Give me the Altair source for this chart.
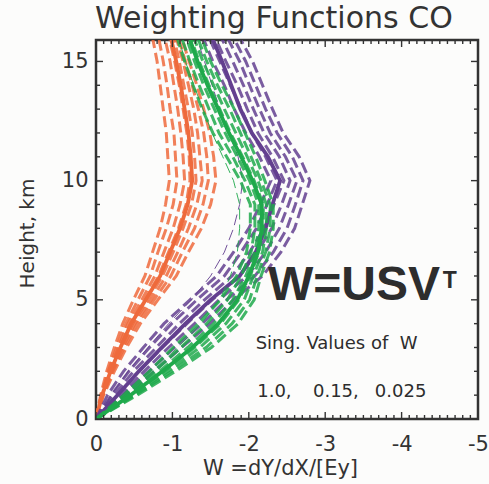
import altair as alt
import pandas as pd

# ---------------- data ----------------
heights = [0, 1, 2, 3, 4, 5, 6, 7, 8, 9, 10, 11, 12, 13, 14, 15, 16]

orange_main = [0, -0.08, -0.19, -0.32, -0.46, -0.65, -0.84, -0.97, -1.10, -1.20, -1.26, -1.24, -1.21, -1.16, -1.11, -1.05, -0.98]
orange_runs = [
    [0, -0.06, -0.14, -0.24, -0.35, -0.49, -0.64, -0.74, -0.84, -0.91, -0.96, -0.94, -0.92, -0.88, -0.84, -0.80, -0.74],
    [0, -0.07, -0.16, -0.27, -0.39, -0.55, -0.71, -0.81, -0.92, -1.01, -1.06, -1.04, -1.02, -0.97, -0.93, -0.88, -0.82],
    [0, -0.07, -0.17, -0.29, -0.42, -0.60, -0.77, -0.89, -1.01, -1.10, -1.16, -1.14, -1.11, -1.07, -1.02, -0.97, -0.90],
    [0, -0.08, -0.19, -0.31, -0.45, -0.64, -0.82, -0.95, -1.08, -1.18, -1.23, -1.22, -1.19, -1.14, -1.09, -1.03, -0.96],
    [0, -0.08, -0.20, -0.33, -0.48, -0.68, -0.87, -1.01, -1.14, -1.25, -1.31, -1.29, -1.26, -1.21, -1.15, -1.09, -1.02],
    [0, -0.09, -0.21, -0.35, -0.51, -0.72, -0.92, -1.07, -1.21, -1.32, -1.39, -1.36, -1.33, -1.28, -1.21, -1.14, -1.05],
    [0, -0.09, -0.22, -0.37, -0.54, -0.76, -0.98, -1.13, -1.29, -1.40, -1.47, -1.45, -1.41, -1.34, -1.26, -1.17, -1.08],
    [0, -0.10, -0.24, -0.40, -0.58, -0.81, -1.05, -1.21, -1.38, -1.50, -1.57, -1.54, -1.49, -1.41, -1.32, -1.22, -1.12],
]

green_main = [0, -0.45, -0.87, -1.26, -1.60, -1.85, -2.00, -2.12, -2.17, -2.17, -2.05, -1.90, -1.74, -1.60, -1.46, -1.33, -1.22]
green_runs = [
    [0, -0.36, -0.70, -1.01, -1.34, -1.63, -1.84, -1.97, -2.02, -2.02, -1.89, -1.71, -1.53, -1.39, -1.27, -1.16, -1.06],
    [0, -0.40, -0.77, -1.11, -1.45, -1.72, -1.90, -2.03, -2.08, -2.08, -1.95, -1.79, -1.61, -1.48, -1.35, -1.23, -1.12],
    [0, -0.43, -0.83, -1.20, -1.54, -1.79, -1.96, -2.08, -2.13, -2.13, -2.01, -1.85, -1.69, -1.55, -1.41, -1.29, -1.18],
    [0, -0.46, -0.89, -1.29, -1.63, -1.87, -2.02, -2.13, -2.19, -2.19, -2.07, -1.92, -1.76, -1.62, -1.48, -1.35, -1.24],
    [0, -0.49, -0.94, -1.36, -1.70, -1.94, -2.06, -2.18, -2.23, -2.23, -2.12, -1.98, -1.83, -1.68, -1.54, -1.40, -1.28],
    [0, -0.51, -0.99, -1.44, -1.78, -2.01, -2.11, -2.22, -2.28, -2.28, -2.16, -2.03, -1.89, -1.75, -1.59, -1.45, -1.33],
    [0, -0.54, -1.04, -1.51, -1.86, -2.07, -2.16, -2.27, -2.32, -2.32, -2.21, -2.09, -1.95, -1.81, -1.65, -1.50, -1.38],
]
green_thin = [0, -0.38, -0.74, -1.07, -1.38, -1.62, -1.76, -1.85, -1.88, -1.88, -1.80, -1.66, -1.52, -1.40, -1.28, -1.17, -1.08]

purple_main = [0, -0.28, -0.56, -0.86, -1.17, -1.50, -1.88, -2.09, -2.22, -2.31, -2.41, -2.25, -2.04, -1.89, -1.77, -1.65, -1.52]
purple_runs = [
    [0, -0.15, -0.36, -0.62, -0.89, -1.23, -1.58, -1.80, -2.00, -2.15, -2.29, -2.14, -1.96, -1.81, -1.68, -1.53, -1.40],
    [0, -0.20, -0.43, -0.70, -0.99, -1.32, -1.68, -1.90, -2.10, -2.24, -2.37, -2.22, -2.04, -1.90, -1.76, -1.62, -1.48],
    [0, -0.24, -0.49, -0.79, -1.09, -1.42, -1.78, -2.01, -2.20, -2.33, -2.46, -2.31, -2.12, -1.98, -1.85, -1.70, -1.56],
    [0, -0.28, -0.56, -0.87, -1.19, -1.52, -1.88, -2.11, -2.30, -2.43, -2.54, -2.40, -2.20, -2.06, -1.93, -1.79, -1.64],
    [0, -0.32, -0.63, -0.95, -1.29, -1.61, -1.98, -2.22, -2.40, -2.52, -2.63, -2.48, -2.28, -2.14, -2.01, -1.88, -1.72],
    [0, -0.36, -0.69, -1.03, -1.39, -1.71, -2.08, -2.32, -2.50, -2.61, -2.71, -2.57, -2.37, -2.22, -2.09, -1.96, -1.80],
    [0, -0.41, -0.76, -1.12, -1.49, -1.80, -2.18, -2.42, -2.60, -2.70, -2.80, -2.66, -2.45, -2.31, -2.18, -2.05, -1.88],
]
purple_thin = [0, -0.20, -0.42, -0.68, -0.95, -1.25, -1.50, -1.68, -1.80, -1.88, -1.92, -1.86, -1.74, -1.62, -1.52, -1.42, -1.32]

x_label_values = [0, -1, -2, -3, -4, -5]
y_label_values = [0, 5, 10, 15]
x_minor_ticks = [round(-0.1 * i, 1) for i in range(51)]
y_minor_ticks = list(range(0, 16))

title_text = "Weighting Functions CO"
annotations_bold = [("W=USV", -2.25, 4.99, 48), ("T", -4.54, 5.50, 23)]
annotations_plain = [("Sing. Values of\u00a0\u00a0W", -2.09, 2.94, 18),
                     ("1.0,", -2.11, 0.92, 18), ("0.15,", -2.84, 0.92, 18), ("0.025", -3.65, 0.92, 18)]

COLORS = {"orange": "#EE6A3C", "green": "#1FA94B", "purple": "#633F8F"}
INK = "#333333"
W, H = 382, 379
FONT = "DejaVu Sans"

xs = alt.Scale(domain=[0, -5], nice=False, zero=False)
ys = alt.Scale(domain=[0, 15.9], nice=False, zero=False)

XA = alt.Axis(values=x_label_values, tickSize=0, domain=False, grid=False, labelFlush=False,
              labelExpr="datum.value == 0 ? '0' : '-' + abs(datum.value)",
              labelPadding=14, labelFontSize=21, title="W =dY/dX/[Ey]",
              titleX=184, titleY=55, titleBaseline="alphabetic", titleFontSize=21)
YA = alt.Axis(values=y_label_values, tickSize=0, domain=False, grid=False, labelFlush=False,
              labelPadding=8, labelFontSize=21, title="Height, km",
              titleX=-63, titleY=193, titleBaseline="alphabetic", titleAngle=-90, titleFontSize=20)


def frame(series_list, prefix):
    rows = []
    for k, s in enumerate(series_list):
        for h, w in zip(heights, s):
            rows.append({"member": f"{prefix}{k}", "h": h, "w": w})
    return pd.DataFrame(rows)


def lines(series_list, prefix, color, width, dash=None, opacity=1.0):
    kw = dict(clip=True, strokeWidth=width, color=color, opacity=opacity)
    if dash is not None:
        kw["strokeDash"] = dash
    return alt.Chart(frame(series_list, prefix)).mark_line(**kw).encode(
        x=alt.X("w:Q", scale=xs, axis=XA),
        y=alt.Y("h:Q", scale=ys, axis=YA),
        detail="member:N",
        order="h:Q",
    )


def xticks(vals, length, top):
    d = pd.DataFrame({"v": vals})
    if top:
        enc = dict(y=alt.value(0), y2=alt.value(length))
    else:
        enc = dict(y=alt.value(H), y2=alt.value(H - length))
    return alt.Chart(d).mark_rule(color=INK, strokeWidth=1.4).encode(
        x=alt.X("v:Q", scale=xs, axis=XA), **enc)


def yticks(vals, length, right):
    d = pd.DataFrame({"v": vals})
    if right:
        enc = dict(x=alt.value(W), x2=alt.value(W - length))
    else:
        enc = dict(x=alt.value(0), x2=alt.value(length))
    return alt.Chart(d).mark_rule(color=INK, strokeWidth=1.4).encode(
        y=alt.Y("v:Q", scale=ys, axis=YA), **enc)


def texts(items, weight, font):
    d = pd.DataFrame(items, columns=["t", "x", "y", "fs"])
    return alt.Chart(d).mark_text(align="left", baseline="alphabetic", color="#2d2d2d",
                                  font=font, fontWeight=weight).encode(
        x=alt.X("x:Q", scale=xs, axis=XA),
        y=alt.Y("y:Q", scale=ys, axis=YA),
        text="t:N",
        size=alt.Size("fs:Q", scale=None, legend=None),
    )


title_layer = alt.Chart(pd.DataFrame({"t": [title_text]})).mark_text(
    align="left", baseline="alphabetic", color=INK, font=FONT, fontSize=30
).encode(text="t:N", x=alt.value(-1), y=alt.value(-12))

DASH = [11, 5]
DW = 3.0
layers = [
    lines(orange_runs, "o", COLORS["orange"], DW, DASH, 0.85),
    lines([orange_main], "om", COLORS["orange"], 3.8),
    lines(purple_runs, "p", COLORS["purple"], DW, DASH, 0.85),
    lines([purple_thin], "pt", COLORS["purple"], 1.0, DASH, 0.9),
    lines([purple_main], "pm", COLORS["purple"], 3.8),
    lines(green_runs, "g", COLORS["green"], DW, DASH, 0.85),
    lines([green_thin], "gt", COLORS["green"], 1.0, DASH, 0.9),
    lines([green_main], "gm", COLORS["green"], 3.8),
    xticks([v for v in x_minor_ticks if abs(v - round(v)) > 1e-6], 4, False),
    xticks([v for v in x_minor_ticks if abs(v - round(v)) > 1e-6], 4, True),
    xticks(x_label_values, 7, False),
    xticks(x_label_values, 7, True),
    yticks([v for v in y_minor_ticks if v % 5 != 0], 4, False),
    yticks([v for v in y_minor_ticks if v % 5 != 0], 4, True),
    yticks(y_label_values, 7, False),
    yticks(y_label_values, 7, True),
    texts(annotations_bold, "bold", "Liberation Sans"),
    texts(annotations_plain, "normal", FONT),
    title_layer,
]

chart = alt.layer(*layers).properties(
    width=W, height=H,
    autosize=alt.AutoSizeParams(type="none"),
    padding={"left": 96, "top": 40, "right": 11, "bottom": 65},
    background="#fcfcfb",
).configure_view(stroke=INK, strokeWidth=2.5).configure_axis(
    labelFont=FONT, titleFont=FONT,
    labelColor=INK, titleColor=INK, titleFontWeight="normal",
)

chart.save("out.html", embed_options={"renderer": "svg", "actions": False})
